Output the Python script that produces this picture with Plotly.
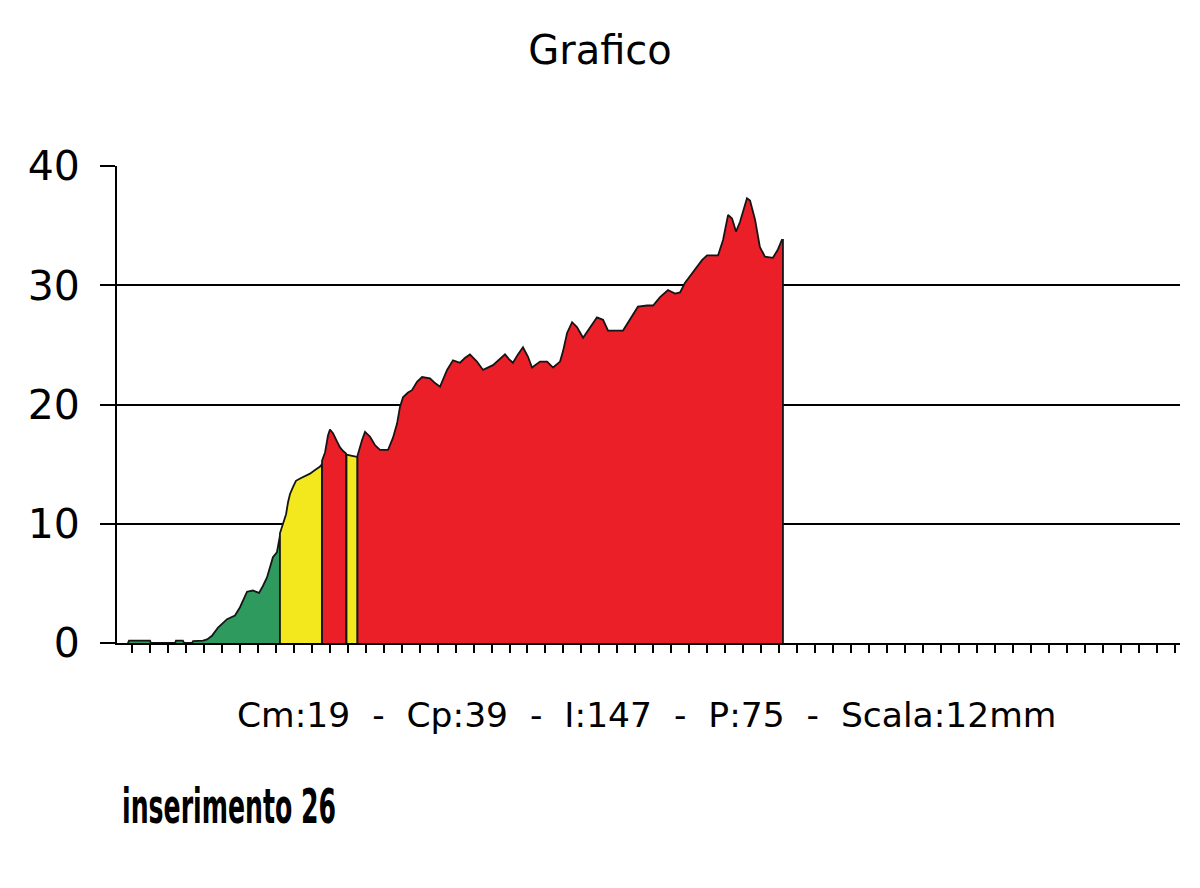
import plotly.graph_objects as go

# ---- data (x in tick-position units, y in chart units) ----
green_x = [-0.21, -0.15, 1.02, 1.07, 2.41, 2.46, 2.85, 2.91, 3.35, 3.41, 3.96,
           4.19, 4.46, 4.80, 5.30, 5.74, 6.02, 6.41, 6.74, 7.08, 7.30, 7.52, 7.85, 8.07, 8.24]
green_y = [0, 0.2, 0.2, 0, 0, 0.2, 0.2, 0, 0, 0.15, 0.2,
           0.3, 0.6, 1.3, 2.0, 2.3, 3.0, 4.3, 4.4, 4.2, 4.8, 5.5, 7.2, 7.6, 9.0]

yellow1_x = [8.24, 8.41, 8.58, 8.69, 8.80, 8.97, 9.13, 9.36, 9.63, 9.91, 10.19, 10.47, 10.58]
yellow1_y = [9.2, 10.0, 10.8, 11.8, 12.5, 13.1, 13.6, 13.8, 14.0, 14.2, 14.5, 14.8, 15.0]

red1_x = [10.58, 10.75, 10.91, 11.02, 11.19, 11.41, 11.58, 11.75, 11.91]
red1_y = [15.3, 16.0, 17.4, 17.9, 17.6, 16.9, 16.4, 16.1, 15.9]

yellow2_x = [11.94, 12.25, 12.55]
yellow2_y = [15.8, 15.7, 15.6]

red2_x = [12.55, 12.80, 12.97, 13.25, 13.52, 13.80, 14.25, 14.52, 14.75, 14.91,
          15.08, 15.36, 15.58, 15.86, 16.14, 16.58, 16.86, 17.14, 17.53, 17.86,
          18.25, 18.52, 18.80, 19.19, 19.53, 20.08, 20.47, 20.75, 20.97, 21.19,
          21.47, 21.75, 22.03, 22.25, 22.70, 23.09, 23.42, 23.81, 23.98, 24.20,
          24.48, 24.75, 25.09, 25.48, 25.86, 26.20, 26.48, 27.31, 27.70, 28.14,
          28.65, 28.98, 29.37, 29.81, 30.20, 30.48, 30.75, 31.20, 31.70, 31.98,
          32.59, 32.87, 33.15, 33.37, 33.59, 33.81, 34.20, 34.37, 34.65, 34.92,
          35.20, 35.64, 35.92, 36.14, 36.20]
red2_y = [15.7, 17.0, 17.7, 17.3, 16.6, 16.2, 16.2, 17.2, 18.4, 19.8,
          20.6, 21.0, 21.2, 21.9, 22.3, 22.2, 21.8, 21.5, 22.9, 23.7,
          23.5, 23.9, 24.2, 23.6, 22.9, 23.3, 23.8, 24.2, 23.8, 23.5,
          24.2, 24.8, 24.0, 23.1, 23.6, 23.6, 23.1, 23.6, 24.5, 26.0,
          26.9, 26.5, 25.6, 26.5, 27.3, 27.1, 26.2, 26.2, 27.1, 28.2,
          28.3, 28.3, 29.0, 29.6, 29.3, 29.4, 30.2, 31.1, 32.1, 32.5,
          32.5, 33.8, 35.9, 35.6, 34.5, 35.3, 37.3, 37.1, 35.5, 33.2,
          32.4, 32.3, 33.0, 33.8, 33.8]

y_ticks = [0, 10, 20, 30, 40]
y_tick_labels = ["0", "10", "20", "30", "40"]
x_tick_positions = list(range(59))

title_text = "Grafico"
info_text = "Cm:19\u00a0\u00a0-\u00a0\u00a0Cp:39\u00a0\u00a0-\u00a0\u00a0I:147\u00a0\u00a0-\u00a0\u00a0P:75\u00a0\u00a0-\u00a0\u00a0Scala:12mm"
note_text = "inserimento 26"

GREEN = "#2e9a5e"
YELLOW = "#f3e71d"
RED = "#ea1f28"
OUTLINE = "#151515"

segments = [
    (green_x, green_y, GREEN),
    (yellow1_x, yellow1_y, YELLOW),
    (red1_x, red1_y, RED),
    (yellow2_x, yellow2_y, YELLOW),
    (red2_x, red2_y, RED),
]

fig = go.Figure()
for xs, ys, col in segments:
    px_ = [xs[0]] + xs + [xs[-1]]
    py_ = [0] + ys + [0]
    fig.add_trace(go.Scatter(
        x=px_, y=py_, mode="lines", fill="toself", fillcolor=col,
        line=dict(color=OUTLINE, width=1.8), hoverinfo="skip", showlegend=False,
    ))

W, H = 1184, 872  # page body adds an 8px margin
fig.update_layout(
    width=W, height=H,
    paper_bgcolor="white", plot_bgcolor="white",
    margin=dict(l=109, r=12, t=158, b=237),
    font=dict(family="DejaVu Sans", color="black"),
    title=dict(text=title_text, x=0.5, xref="container", xanchor="center",
               y=1 - 42 / H, yref="container", yanchor="middle",
               font=dict(family="DejaVu Sans", size=40, color="black")),
    showlegend=False,
)

fig.update_xaxes(
    range=[-0.817, 58.27], showgrid=False, zeroline=False,
    showline=True, linecolor="black", linewidth=2,
    tickmode="array", tickvals=x_tick_positions, ticks="outside",
    ticklen=8, tickwidth=2, tickcolor="black", showticklabels=False,
)
fig.update_yaxes(
    range=[0, 40], showgrid=True, gridcolor="black", gridwidth=2,
    zeroline=False, showline=True, linecolor="black", linewidth=2,
    tickmode="array", tickvals=y_ticks, ticktext=y_tick_labels,
    ticks="outside", ticklen=15, tickwidth=2, tickcolor="black",
    ticklabelstandoff=12,
    tickfont=dict(family="DejaVu Sans", size=41, color="black"),
)

fig.add_annotation(
    text=info_text, xref="paper", yref="paper", x=0.498, y=-0.151,
    xanchor="center", yanchor="middle", showarrow=False,
    font=dict(family="DejaVu Sans", size=34.5, color="black"),
)
fig.add_annotation(
    text="<b>" + note_text + "</b>", xref="paper", yref="paper", x=0.003, y=-0.342,
    xanchor="left", yanchor="middle", showarrow=False,
    font=dict(family="DejaVu Sans Condensed", size=28, color="black"),
)

# stretch the condensed note text vertically (it is a tall, narrow face in the reference)
post_js = """
try {
  var gd = document.getElementById('{plot_id}');
  var anns = gd.querySelectorAll('g.annotation');
  if (anns.length > 1) {
    var t = anns[1].querySelector('text.annotation-text');
    var bb = t.getBBox();
    var cx = bb.x, cy = bb.y + bb.height / 2;
    t.setAttribute('transform', 'translate(' + cx + ',' + cy + ') scale(1,1.7) translate(' + (-cx) + ',' + (-cy) + ')');
  }
} catch (e) {}
"""

fig.write_html("out.html", post_script=post_js)
